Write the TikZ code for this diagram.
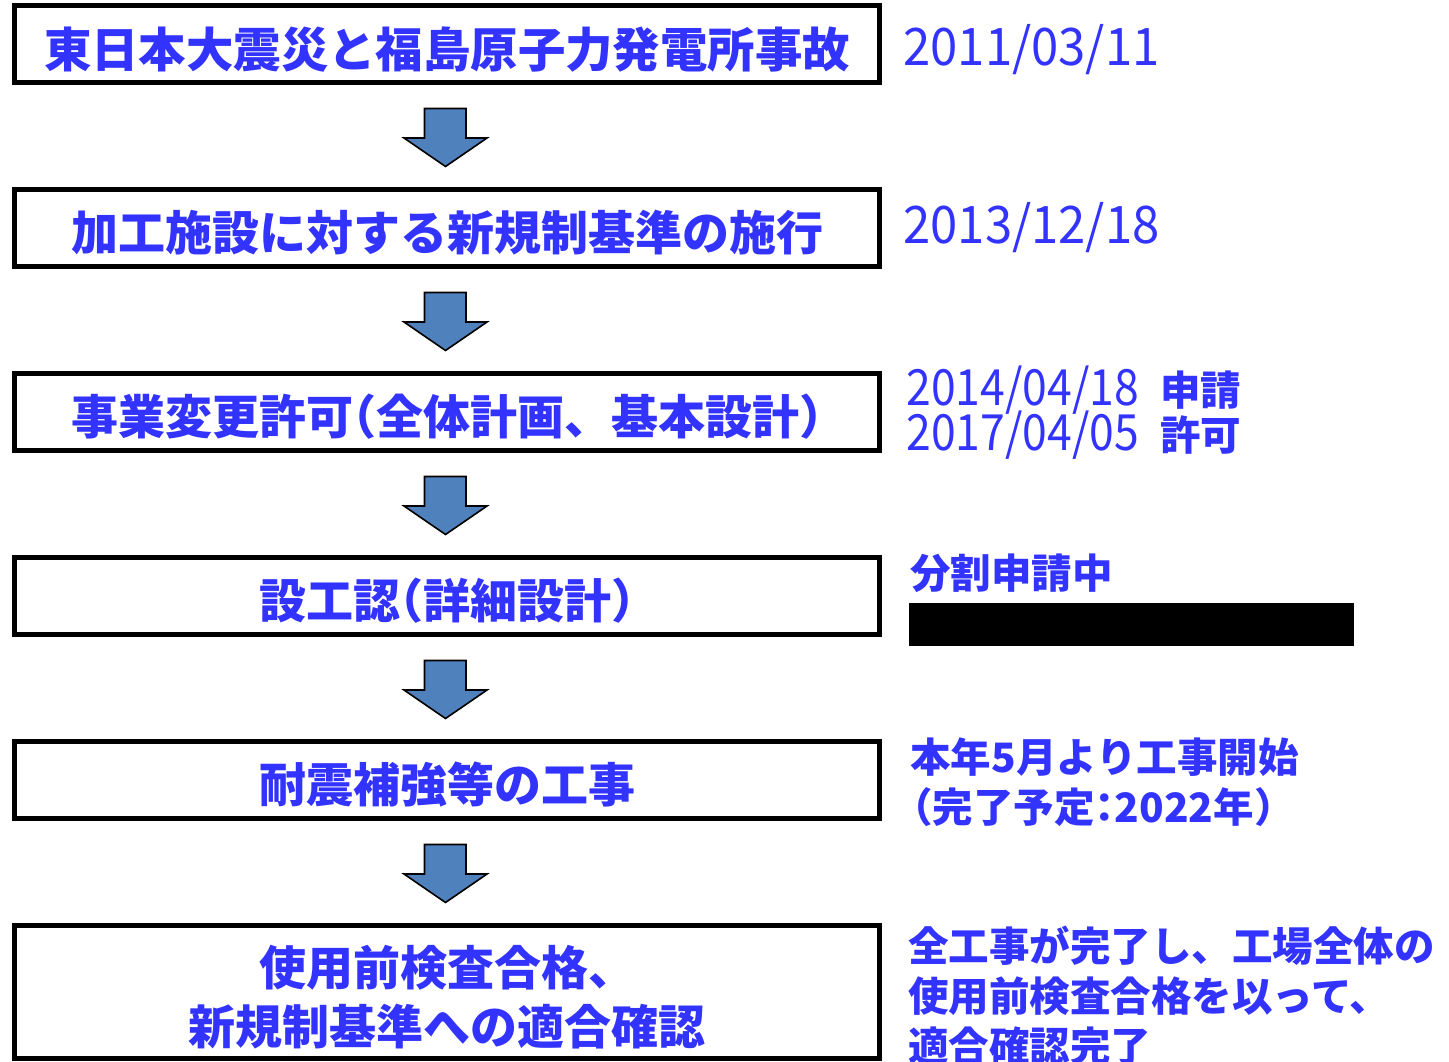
\documentclass[tikz,border=0pt]{standalone}
\usepackage{fontspec}
\usepackage{graphicx}
\newfontfamily\jp{Noto Sans CJK JP}
\definecolor{txtblue}{RGB}{51,51,255}
\definecolor{arrblue}{RGB}{79,129,189}
\newcommand\hw[1]{{\addfontfeature{RawFeature=+halt}#1}}
\newcommand\dte[2]{\scalebox{1.07}[#1]{#2}}
\tikzset{
  stagebox/.style={draw=black, line width=2.5pt, fill=white, minimum width=432.5pt, minimum height=38.25pt, inner sep=0pt},
  boxtext/.style={anchor=base, inner sep=0pt, text=txtblue, font=\jp\bfseries\fontsize{23.5pt}{28pt}\selectfont},
  sidetext/.style={anchor=base west, inner sep=0pt, text=txtblue, font=\jp\bfseries\fontsize{20.25pt}{24pt}\selectfont},
  datetext/.style={anchor=base west, inner sep=0pt, text=txtblue, font=\jp\fontsize{22.9pt}{26pt}\selectfont},
  datetextb/.style={anchor=base west, inner sep=0pt, text=txtblue, font=\jp\fontsize{20.8pt}{24pt}\selectfont},
  blockarrow/.style={draw=black, line width=0.8pt, fill=arrblue, line join=miter}
}
\begin{document}
\begin{tikzpicture}[x=0.5pt,y=-0.5pt]
\useasboundingbox (0,0) rectangle (1449,1061);
% boxes
\node[stagebox] (b1) at (447,43.75) {};
\node[stagebox] (b2) at (447,227.75) {};
\node[stagebox] (b3) at (447,411.75) {};
\node[stagebox] (b4) at (447,595.75) {};
\node[stagebox] (b5) at (447,779.75) {};
\node[stagebox, minimum height=66.25pt] (b6) at (447,991.75) {};
% box texts
\node[boxtext, font=\jp\bfseries\fontsize{23.7pt}{28pt}\selectfont] (t1) at (447,67) {東日本大震災と福島原子力発電所事故};
\node[boxtext] (t2) at (447,250) {加工施設に対する新規制基準の施行};
\node[boxtext] (t3) at (447,434) {事業変更許可\hw{（}全体計画、基本設計\hw{）}};
\node[boxtext] (t4) at (447,618) {設工認\hw{（}詳細設計\hw{）}};
\node[boxtext] (t5) at (447,802) {耐震補強等の工事};
\node[boxtext] (t6a) at (447,985) {使用前検査合格、};
\node[boxtext] (t6b) at (447,1044) {新規制基準への適合確認};
% arrows
\foreach \k in {0,...,4}{
  \draw[blockarrow, yshift=-92*\k pt] (424.5,108.5) -- (466,108.5) -- (466,138) -- (487,138) -- (445.5,166.5) -- (404,138) -- (424.5,138) -- cycle;
}
% side texts
\node[datetext] (d1) at (903,65) {\dte{1.13}{2011/03/11}};
\node[datetext] (d2) at (903,243) {\dte{1.13}{2013/12/18}};
\node[datetextb] (d3) at (906,405) {\dte{1.2}{2014/04/18}};
\node[sidetext] (d3k) at (1160,405) {申請};
\node[datetextb] (d4) at (906,450) {\dte{1.2}{2017/04/05}};
\node[sidetext] (d4k) at (1160,450) {許可};
\node[sidetext] (s4) at (910,588) {分割申請中};
\fill[black] (909,603) rectangle (1354,646);
\node[sidetext] (s5a) at (910,772) {本年5月より工事開始};
\node[sidetext] (s5b) at (912,822) {\hw{（}完了予定\hw{：}2022年\hw{）}};
\node[sidetext] (s6a) at (908,961) {全工事が完了し、工場全体の};
\node[sidetext] (s6b) at (908,1011) {使用前検査合格を以って、};
\node[sidetext] (s6c) at (908,1061) {適合確認完了};
\end{tikzpicture}
\end{document}
